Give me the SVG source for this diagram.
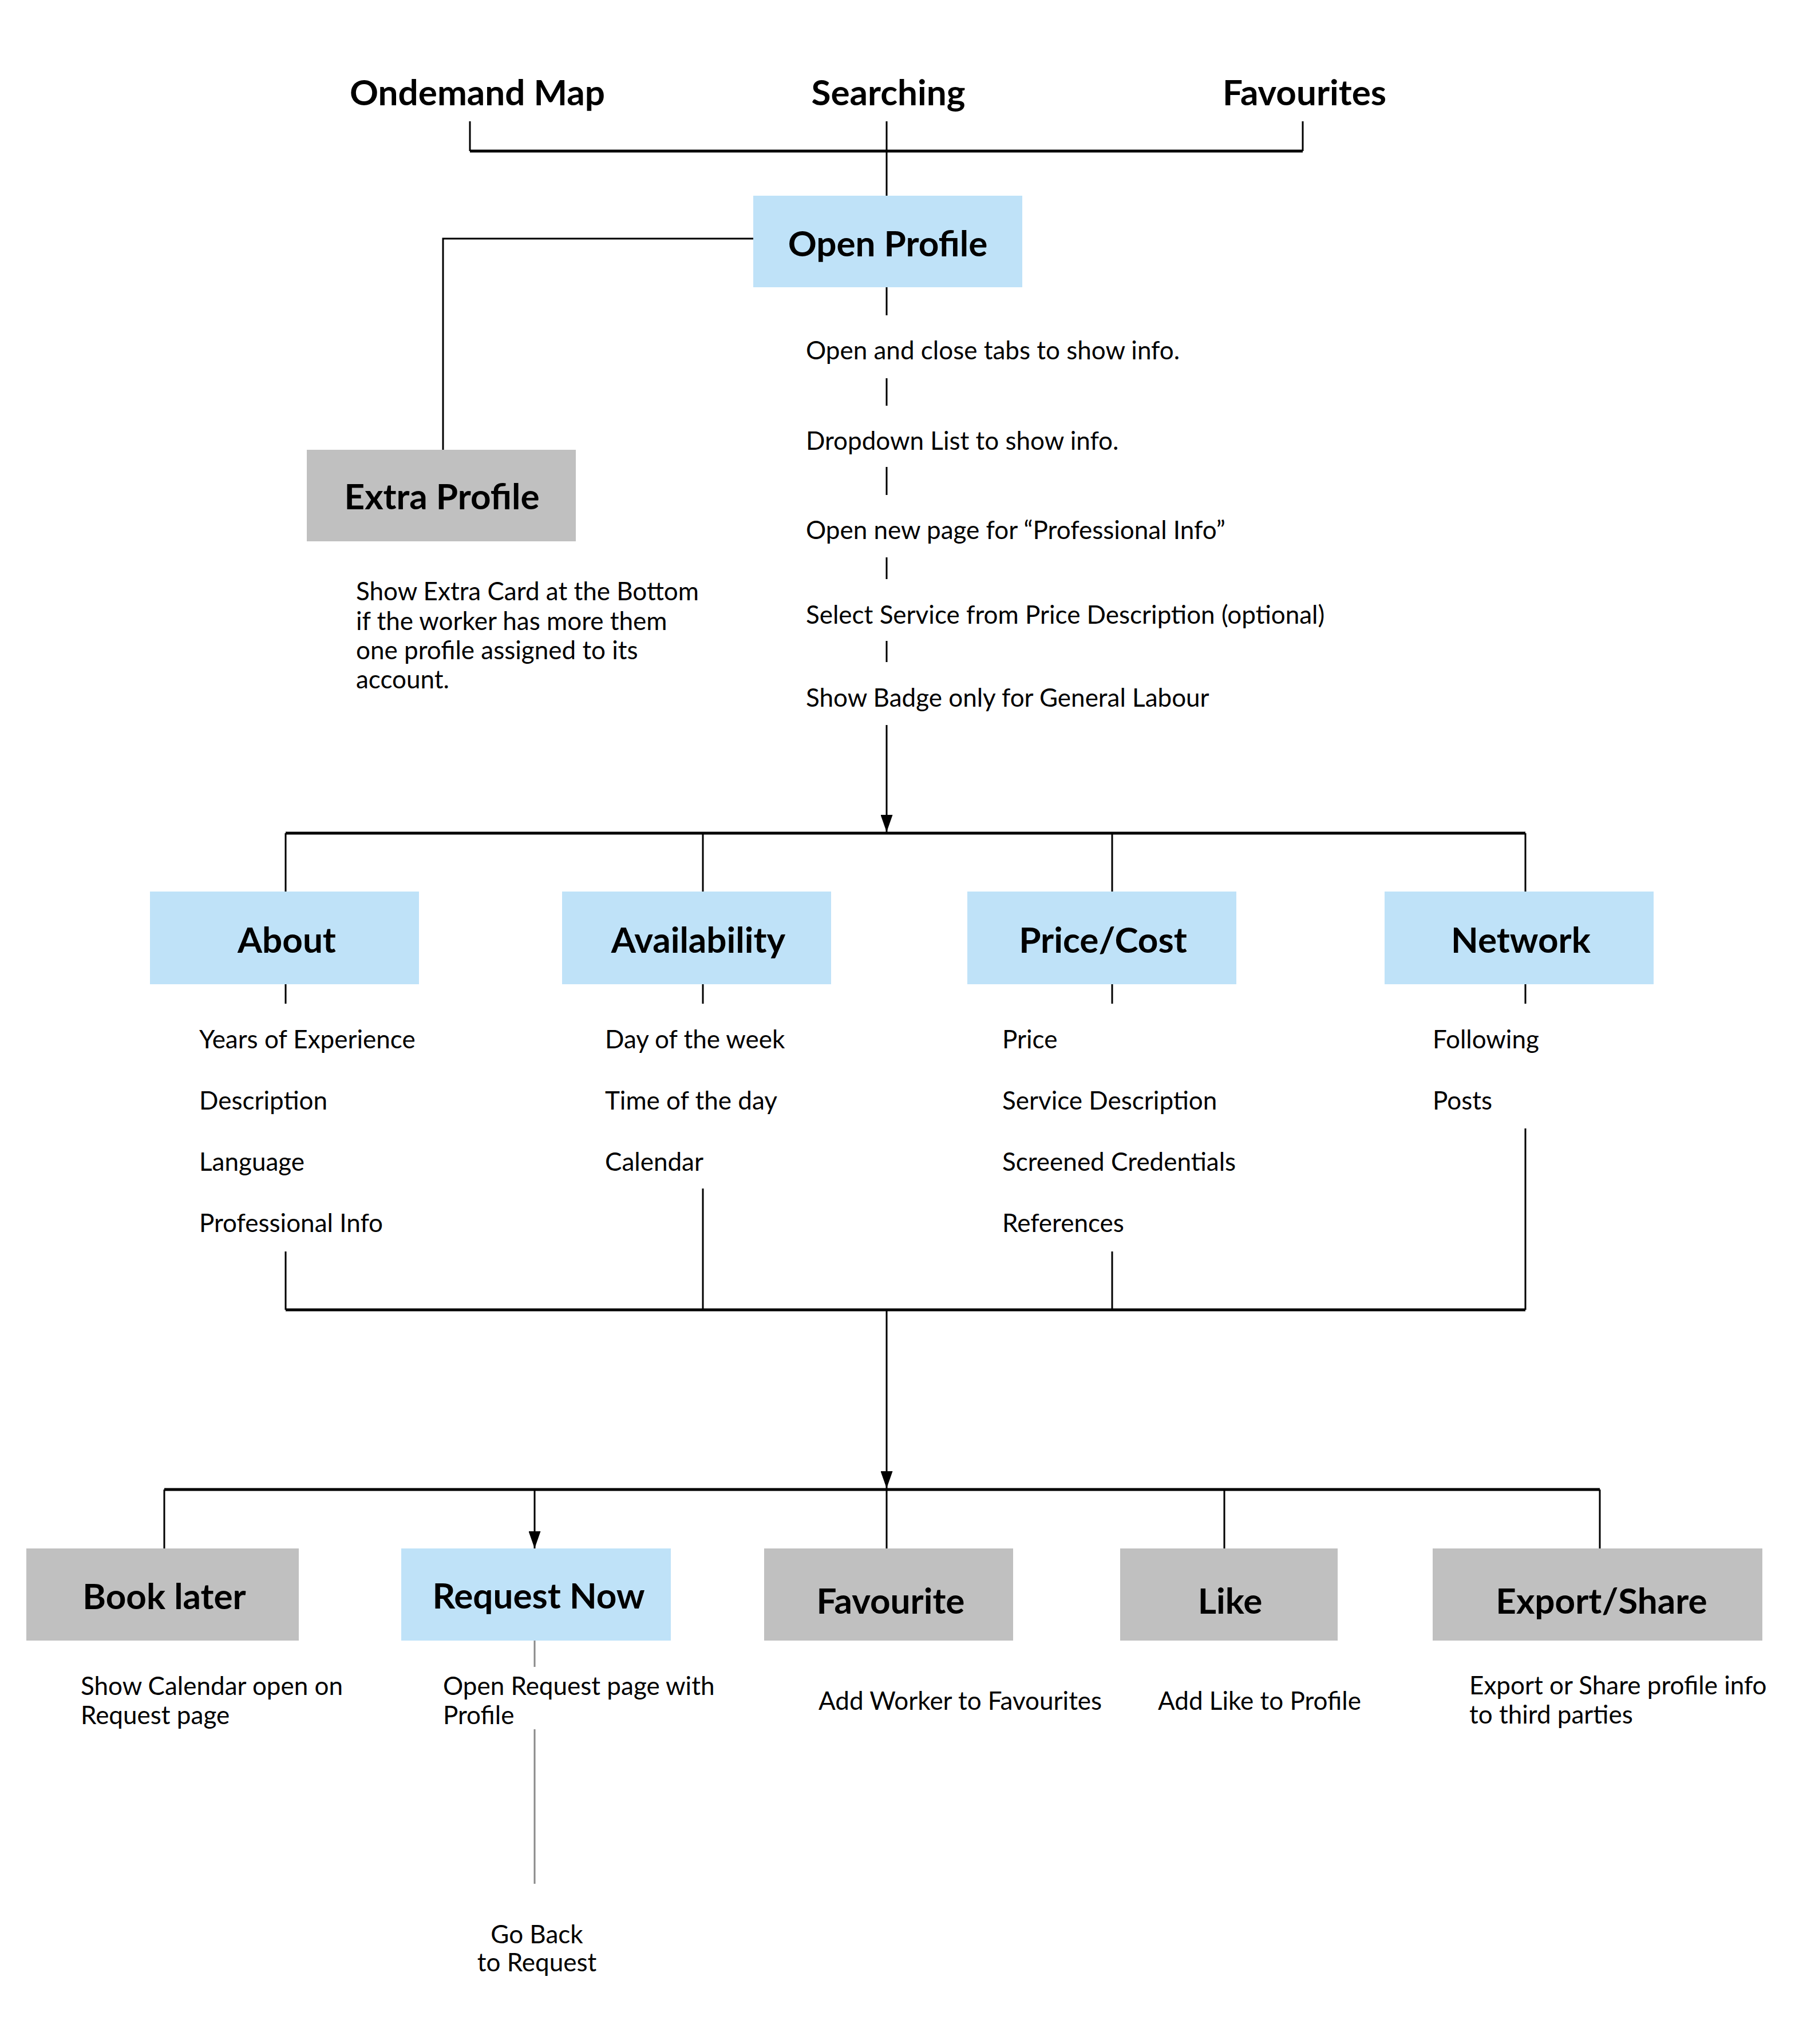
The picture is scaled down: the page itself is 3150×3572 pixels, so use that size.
<svg xmlns="http://www.w3.org/2000/svg" width="3150" height="3572" viewBox="0 0 3150 3572">
<defs>
<style>
text{font-family:Lato,"Open Sans","Liberation Sans",sans-serif;fill:#000}
.ttl{font-size:62px;font-weight:700;text-anchor:middle}
.lbl{font-size:44px}
.sm{font-size:44px}
.mid{text-anchor:middle}
.c{stroke:#000;stroke-width:3;fill:none}
.h{stroke:#000;stroke-width:5;fill:none}
.g{stroke:#8a8a8a;stroke-width:3;fill:none}
.blue{fill:#BFE2F8}
.gray{fill:#C0C0C0}
</style>
<marker id="arr" viewBox="0 0 30 21" refX="30" refY="10.5" markerWidth="30" markerHeight="21" markerUnits="userSpaceOnUse" orient="auto">
<path d="M0,0 L30,10.5 L0,21 z" fill="#000"/>
</marker>
</defs>
<rect width="3150" height="3572" fill="#fff"/>

<g id="connectors">
<!-- top bracket -->
<path class="c" d="M821,212 V264 M2276,212 V264 M1549,212 V342"/>
<path class="h" d="M821,264 H2276"/>
<!-- open profile to extra profile -->
<path class="c" d="M1316,417 H774 V786"/>
<!-- dashes between notes -->
<path class="c" d="M1549,502 V551 M1549,661 V709 M1549,816 V865 M1549,974 V1012 M1549,1120 V1157"/>
<line class="c" x1="1549" y1="1267" x2="1549" y2="1454" marker-end="url(#arr)"/>
<!-- level 2 bus -->
<path class="h" d="M499,1456 H2665"/>
<path class="c" d="M499,1456 V1558 M1228,1456 V1558 M1943,1456 V1558 M2665,1456 V1558"/>
<path class="c" d="M499,1720 V1754 M1228,1720 V1754 M1943,1720 V1754 M2665,1720 V1754"/>
<path class="c" d="M499,2187 V2289 M1228,2077 V2289 M1943,2187 V2289 M2665,1972 V2289"/>
<path class="h" d="M499,2289 H2665"/>
<line class="c" x1="1549" y1="2289" x2="1549" y2="2601" marker-end="url(#arr)"/>
<!-- level 3 bus -->
<path class="h" d="M287,2603 H2795"/>
<path class="c" d="M287,2603 V2706 M1549,2603 V2706 M2139,2603 V2706 M2795,2603 V2706"/>
<line class="c" x1="934" y1="2603" x2="934" y2="2706" marker-end="url(#arr)"/>
<!-- request now to go back -->
<path class="g" d="M934,2867 V2913 M934,3022 V3292"/>
</g>

<g id="top-labels">
<text class="ttl" x="834" y="184">Ondemand Map</text>
<text class="ttl" x="1552" y="184">Searching</text>
<text class="ttl" x="2279" y="184">Favourites</text>
</g>

<g id="open-profile">
<rect class="blue" x="1316" y="342" width="470" height="160"/>
<text class="ttl" x="1551" y="448">Open Profile</text>
</g>

<g id="extra-profile">
<rect class="gray" x="536" y="786" width="470" height="160"/>
<text class="ttl" x="772" y="890">Extra Profile</text>
<text class="lbl" x="622" y="1049">Show Extra Card at the Bottom</text>
<text class="lbl" x="622" y="1101">if the worker has more them</text>
<text class="lbl" x="622" y="1152">one profile assigned to its</text>
<text class="lbl" x="622" y="1203">account.</text>
</g>

<g id="profile-notes">
<text class="lbl" x="1408" y="628">Open and close tabs to show info.</text>
<text class="lbl" x="1408" y="786">Dropdown List to show info.</text>
<text class="lbl" x="1408" y="942">Open new page for “Professional Info”</text>
<text class="lbl" x="1408" y="1090">Select Service from Price Description (optional)</text>
<text class="lbl" x="1408" y="1235">Show Badge only for General Labour</text>
</g>

<g id="about">
<rect class="blue" x="262" y="1558" width="470" height="162"/>
<text class="ttl" x="501" y="1665">About</text>
<text class="lbl" x="348" y="1832">Years of Experience</text>
<text class="lbl" x="348" y="1939">Description</text>
<text class="lbl" x="348" y="2046">Language</text>
<text class="lbl" x="348" y="2153">Professional Info</text>
</g>

<g id="availability">
<rect class="blue" x="982" y="1558" width="470" height="162"/>
<text class="ttl" x="1220" y="1665">Availability</text>
<text class="lbl" x="1057" y="1832">Day of the week</text>
<text class="lbl" x="1057" y="1939">Time of the day</text>
<text class="lbl" x="1057" y="2046">Calendar</text>
</g>

<g id="price-cost">
<rect class="blue" x="1690" y="1558" width="470" height="162"/>
<text class="ttl" x="1927" y="1665">Price/Cost</text>
<text class="lbl" x="1751" y="1832">Price</text>
<text class="lbl" x="1751" y="1939">Service Description</text>
<text class="lbl" x="1751" y="2046">Screened Credentials</text>
<text class="lbl" x="1751" y="2153">References</text>
</g>

<g id="network">
<rect class="blue" x="2419" y="1558" width="470" height="162"/>
<text class="ttl" x="2657" y="1665">Network</text>
<text class="lbl" x="2503" y="1832">Following</text>
<text class="lbl" x="2503" y="1939">Posts</text>
</g>

<g id="book-later">
<rect class="gray" x="46" y="2706" width="476" height="161"/>
<text class="ttl" x="287" y="2812">Book later</text>
<text class="sm" x="141" y="2962">Show Calendar open on</text>
<text class="sm" x="141" y="3013">Request page</text>
</g>

<g id="request-now">
<rect class="blue" x="701" y="2706" width="471" height="161"/>
<text class="ttl" x="941" y="2811">Request Now</text>
<text class="sm" x="774" y="2962">Open Request page with</text>
<text class="sm" x="774" y="3013">Profile</text>
</g>

<g id="favourite">
<rect class="gray" x="1335" y="2706" width="435" height="161"/>
<text class="ttl" x="1556" y="2820">Favourite</text>
<text class="sm" x="1430" y="2988">Add Worker to Favourites</text>
</g>

<g id="like">
<rect class="gray" x="1957" y="2706" width="380" height="161"/>
<text class="ttl" x="2149" y="2820">Like</text>
<text class="sm" x="2023" y="2988">Add Like to Profile</text>
</g>

<g id="export-share">
<rect class="gray" x="2503" y="2706" width="576" height="161"/>
<text class="ttl" x="2798" y="2820">Export/Share</text>
<text class="sm" x="2567" y="2961">Export or Share profile info</text>
<text class="sm" x="2567" y="3012">to third parties</text>
</g>

<g id="go-back">
<text class="sm mid" x="938" y="3396">Go Back</text>
<text class="sm mid" x="938" y="3445">to Request</text>
</g>
</svg>
